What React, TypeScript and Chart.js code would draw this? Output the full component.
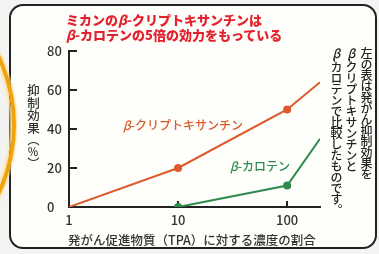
import React, { useEffect, useRef } from "react";
import { Chart, registerables } from "chart.js";

Chart.register(...registerables);

// Data (x = TPA concentration ratio, y = inhibition effect %)
const cryptoX = [1, 10, 100, 200];
const cryptoY = [0, 20, 50, 64];
const caroteneX = [10, 100, 200];
const caroteneY = [0, 11, 35];
const xTickValues = [1, 10, 100];
const yTickValues = [0, 20, 40, 60, 80];

const titleLines = ["ミカンのβ-クリプトキサンチンは", "β-カロテンの5倍の効力をもっている"];
const cryptoLabel = "β-クリプトキサンチン";
const caroteneLabel = "β-カロテン";
const yTitleMain = "抑制効果";
const yTitleUnit = "％";
const xTitle = "発がん促進物質（TPA）に対する濃度の割合";
const sideNote = ["左の表は発がん抑制効果を", "β-クリプトキサンチンと", "β-カロテンで比較したものです。"];

const FONT = '"Noto Sans CJK JP", "Noto Sans", sans-serif';
const ORANGE = "#dc5a2c";
const GREEN = "#2f8a4e";
const AXIS = "#222";

function Beta({ text }: { text: string }) {
  const parts = text.split("β");
  return (
    <>
      {parts.map((p, i) => (
        <React.Fragment key={i}>
          {i > 0 && <span style={{ fontStyle: "italic" }}>β</span>}
          {p}
        </React.Fragment>
      ))}
    </>
  );
}

function VBeta({ text }: { text: string }) {
  const parts = text.split("β");
  return (
    <>
      {parts.map((p, i) => (
        <React.Fragment key={i}>
          {i > 0 && <span style={{ textOrientation: "upright" as any, fontStyle: "italic" }}>β</span>}
          {p}
        </React.Fragment>
      ))}
    </>
  );
}

export default function App() {
  const ref = useRef<HTMLCanvasElement>(null);

  useEffect(() => {
    if (!ref.current) return;
    const chart = new Chart(ref.current, {
      type: "line",
      data: {
        datasets: [
          {
            label: cryptoLabel,
            data: cryptoX.map((x, i) => ({ x, y: cryptoY[i] })),
            borderColor: ORANGE,
            backgroundColor: ORANGE,
            borderWidth: 2,
            pointRadius: [0, 3, 3, 0],
            tension: 0,
          },
          {
            label: caroteneLabel,
            data: caroteneX.map((x, i) => ({ x, y: caroteneY[i] })),
            borderColor: GREEN,
            backgroundColor: GREEN,
            borderWidth: 2,
            pointRadius: [3, 3, 0],
            tension: 0,
          },
        ],
      },
      options: {
        animation: false,
        responsive: false,
        maintainAspectRatio: false,
        layout: { padding: { left: 47, top: 51, right: 59, bottom: 0 } },
        plugins: { legend: { display: false }, title: { display: false }, tooltip: { enabled: false } },
        scales: {
          x: {
            type: "logarithmic",
            min: 1,
            max: 200,
            afterBuildTicks: (s: any) => {
              s.ticks = xTickValues.map((v) => ({ value: v }));
            },
            afterFit: (s: any) => {
              s.height = 47;
            },
            grid: { drawOnChartArea: false, tickLength: -6, color: AXIS, lineWidth: 2 },
            border: { color: AXIS, width: 2 },
            ticks: {
              autoSkip: false,
              maxRotation: 0,
              padding: 11,
              color: "#333",
              font: { family: FONT, size: 13, weight: 500 as any },
              callback: (v: any) => String(v),
            },
          },
          y: {
            min: 0,
            max: 80,
            afterBuildTicks: (s: any) => {
              s.ticks = yTickValues.map((v) => ({ value: v }));
            },
            afterFit: (s: any) => {
              s.width = 22;
            },
            grid: { drawOnChartArea: false, tickLength: -8, color: AXIS, lineWidth: 2 },
            border: { color: AXIS, width: 2 },
            ticks: {
              crossAlign: "far",
              padding: 4,
              color: "#333",
              font: { family: FONT, size: 13, weight: 500 as any },
            },
          },
        },
      },
    } as any);
    return () => chart.destroy();
  }, []);

  return (
    <div
      style={{
        position: "relative",
        width: 379,
        height: 254,
        overflow: "hidden",
        background: "#f3f3f1",
        fontFamily: FONT,
      }}
    >
      <style>{"body{margin:0}"}</style>
      {/* frame */}
      <div
        style={{
          position: "absolute",
          left: 9,
          top: 4,
          width: 368,
          height: 245,
          boxSizing: "border-box",
          border: "2px solid #222",
          borderRadius: 14,
          background: "#fefefb",
        }}
      />
      {/* orange ring */}
      <div
        style={{
          position: "absolute",
          left: -145 - 161,
          top: 125 - 161,
          width: 322,
          height: 322,
          boxSizing: "border-box",
          borderRadius: "50%",
          border: "4px solid #f0a30a",
          boxShadow: "inset 0 0 3px 2px #fbe3a8, 0 0 2px 1px #f8d890",
        }}
      />
      <canvas ref={ref} width={379} height={254} style={{ position: "absolute", left: 0, top: 0 }} />
      {/* title */}
      <div
        style={{
          position: "absolute",
          left: 66,
          top: 12,
          fontSize: 13,
          lineHeight: "15px",
          fontWeight: 900,
          color: "#e2232e",
          whiteSpace: "nowrap",
        }}
      >
        {titleLines.map((t, i) => (
          <div key={i}>
            <Beta text={t} />
          </div>
        ))}
      </div>
      {/* series labels */}
      <div
        style={{
          position: "absolute",
          left: 123,
          top: 116,
          fontSize: 12,
          fontWeight: 500,
          color: ORANGE,
          whiteSpace: "nowrap",
        }}
      >
        <Beta text={cryptoLabel} />
      </div>
      <div
        style={{
          position: "absolute",
          left: 230,
          top: 157,
          fontSize: 12,
          fontWeight: 500,
          color: GREEN,
          whiteSpace: "nowrap",
        }}
      >
        <Beta text={caroteneLabel} />
      </div>
      {/* y title */}
      <div
        style={{
          position: "absolute",
          left: 26,
          top: 84,
          writingMode: "vertical-rl" as any,
          fontSize: 12.5,
          lineHeight: "14px",
          fontWeight: 500,
          color: "#333",
          whiteSpace: "nowrap",
        }}
      >
        {yTitleMain}
        <span style={{ fontSize: 12 }}>（</span>
        <span style={{ textOrientation: "upright" as any, fontSize: 11 }}>{yTitleUnit}</span>
        <span style={{ fontSize: 12 }}>）</span>
      </div>
      {/* x title */}
      <div
        style={{
          position: "absolute",
          left: 68,
          top: 230,
          fontSize: 12.5,
          fontWeight: 500,
          color: "#333",
          whiteSpace: "nowrap",
        }}
      >
        {xTitle}
      </div>
      {/* side note */}
      <div
        style={{
          position: "absolute",
          left: 329,
          top: 47,
          height: 180,
          writingMode: "vertical-rl" as any,
          fontSize: 12,
          lineHeight: "15px",
          letterSpacing: "-1px",
          fontWeight: 500,
          color: "#222",
          whiteSpace: "nowrap",
        }}
      >
        {sideNote.map((t, i) => (
          <div key={i}>
            <VBeta text={t} />
          </div>
        ))}
      </div>
    </div>
  );
}
